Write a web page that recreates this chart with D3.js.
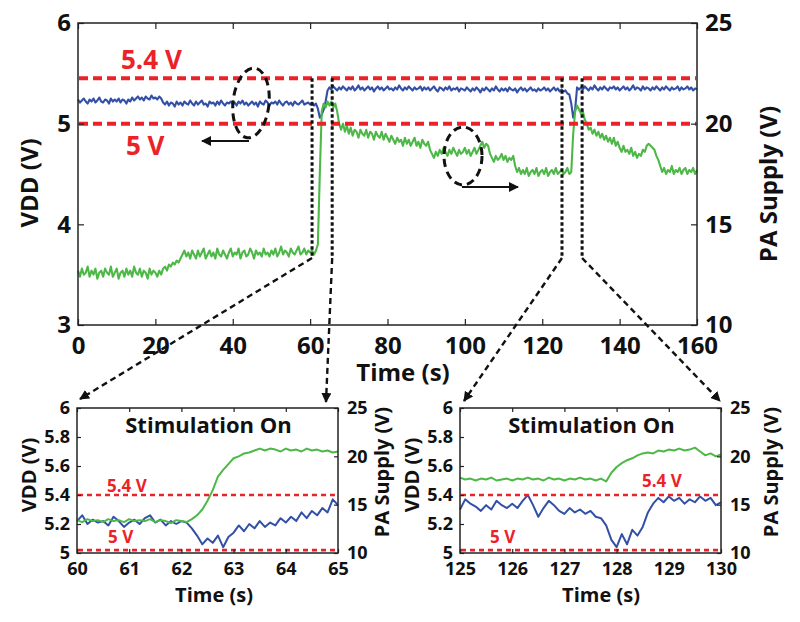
<!DOCTYPE html>
<html><head><meta charset="utf-8">
<script src="https://cdn.jsdelivr.net/npm/d3@7"></script>
<style>
body{margin:0;background:#fff}
text{font-family:'Open Sans',sans-serif;font-weight:700;fill:#111}
</style>
</head><body>
<svg id="c" width="800" height="622"></svg>
<script>
// ---------- DATA ----------
const mainStart = 0, mainStep = 0.5;   // sampling grid of the main traces (s)
const mainVdd = [
5.24,5.21,5.23,5.25,5.22,5.20,5.24,5.22,5.25,5.21,5.23,5.26,5.22,5.21,5.24,5.23,5.20,5.25,5.22,5.24,
5.22,5.25,5.21,5.24,5.23,5.20,5.24,5.22,5.26,5.23,5.25,5.27,5.24,5.26,5.23,5.27,5.25,5.24,5.28,5.25,
5.26,5.24,5.27,5.25,5.21,5.19,5.22,5.18,5.21,5.20,5.17,5.22,5.19,5.21,5.18,5.22,5.20,5.19,5.23,5.20,
5.18,5.22,5.19,5.21,5.23,5.19,5.20,5.17,5.22,5.20,5.21,5.18,5.22,5.19,5.23,5.20,5.18,5.21,5.20,5.22,
5.19,5.21,5.18,5.22,5.20,5.23,5.19,5.21,5.18,5.20,5.22,5.19,5.21,5.17,5.22,5.20,5.19,5.23,5.21,5.18,
5.21,5.20,5.22,5.19,5.23,5.20,5.18,5.21,5.22,5.19,5.21,5.18,5.22,5.20,5.19,5.21,5.23,5.19,5.20,5.21,
5.19,5.21,5.18,5.20,5.15,5.06,5.09,5.14,5.22,5.33,5.36,5.34,5.37,5.35,5.33,5.36,5.34,5.37,5.35,5.33,
5.36,5.34,5.37,5.33,5.35,5.38,5.34,5.36,5.33,5.35,5.37,5.34,5.36,5.32,5.35,5.37,5.34,5.36,5.33,5.35,
5.37,5.34,5.35,5.33,5.36,5.34,5.38,5.35,5.33,5.36,5.34,5.37,5.35,5.33,5.36,5.34,5.35,5.37,5.33,5.36,
5.34,5.36,5.33,5.35,5.37,5.34,5.32,5.36,5.35,5.33,5.36,5.34,5.37,5.33,5.35,5.34,5.36,5.32,5.35,5.34,
5.33,5.36,5.34,5.32,5.35,5.33,5.36,5.34,5.31,5.35,5.33,5.36,5.34,5.32,5.35,5.33,5.37,5.34,5.32,5.35,
5.33,5.35,5.32,5.36,5.34,5.33,5.35,5.31,5.34,5.36,5.33,5.35,5.32,5.34,5.36,5.33,5.34,5.32,5.35,5.33,
5.34,5.36,5.33,5.35,5.32,5.34,5.36,5.33,5.35,5.32,5.34,5.32,5.33,5.30,5.29,5.20,5.06,5.14,5.36,5.34,
5.36,5.34,5.37,5.35,5.33,5.36,5.34,5.38,5.35,5.33,5.36,5.34,5.37,5.35,5.33,5.36,5.35,5.37,5.34,5.36,
5.33,5.35,5.37,5.34,5.36,5.33,5.35,5.38,5.34,5.36,5.35,5.33,5.37,5.34,5.36,5.35,5.33,5.36,5.34,5.37,
5.35,5.33,5.36,5.34,5.37,5.35,5.33,5.36,5.34,5.35,5.37,5.33,5.36,5.34,5.35,5.37,5.34,5.36,5.33,5.35,
5.34];
const mainPa = [
12.7,12.4,12.8,12.5,12.6,12.9,12.4,12.7,12.5,12.8,12.3,12.6,12.7,12.4,12.8,12.6,12.5,12.9,12.4,12.6,
12.8,12.3,12.6,12.7,12.4,12.8,12.5,12.7,12.4,12.9,12.6,12.5,12.8,12.4,12.7,12.6,12.3,12.8,12.5,12.7,
12.6,12.4,12.7,12.5,12.8,12.9,12.7,13.0,12.9,13.1,13.0,13.2,13.1,13.3,13.5,13.7,13.4,13.6,13.3,13.7,
13.5,13.3,13.7,13.4,13.6,13.8,13.3,13.5,13.7,13.4,13.6,13.3,13.8,13.5,13.4,13.7,13.5,13.3,13.6,13.8,
13.4,13.6,13.5,13.8,13.3,13.6,13.7,13.4,13.5,13.8,13.6,13.3,13.7,13.5,13.6,13.4,13.8,13.5,13.6,13.4,
13.7,13.5,13.8,13.4,13.6,13.9,13.5,13.7,13.6,13.4,13.8,13.6,13.5,13.7,13.9,13.5,13.6,13.8,13.5,13.7,
13.6,13.7,13.5,13.7,14.0,17.5,20.6,21.0,20.8,21.1,20.9,21.1,20.8,21.0,20.6,20.0,19.7,20.0,19.6,19.9,
19.5,19.8,19.4,19.7,19.6,19.3,19.7,19.5,19.4,19.7,19.3,19.6,19.5,19.2,19.6,19.4,19.3,19.6,19.2,19.5,
19.3,19.1,19.4,19.2,19.0,19.3,19.1,19.2,18.9,19.3,19.0,19.2,18.9,19.1,19.3,18.9,19.1,18.8,19.2,19.0,
18.9,19.1,18.7,18.5,18.3,18.6,18.4,18.7,18.5,18.8,18.6,18.4,18.7,18.5,18.8,18.6,18.4,18.7,18.5,18.6,
18.8,18.5,18.7,18.4,18.6,18.8,18.5,18.7,18.9,19.1,18.8,19.0,18.9,18.5,18.3,18.1,18.4,18.2,18.3,18.5,
18.2,18.4,18.1,18.3,18.2,18.4,17.9,17.6,17.8,17.5,17.7,17.5,17.8,17.4,17.6,17.7,17.5,17.8,17.4,17.6,
17.7,17.5,17.8,17.4,17.6,17.7,17.5,17.8,17.5,17.6,17.7,17.5,17.6,17.8,17.5,17.6,19.5,20.6,20.9,20.7,
20.5,20.6,20.2,20.0,19.7,19.8,19.5,19.7,19.4,19.6,19.3,19.5,19.2,19.4,19.1,19.3,19.0,19.3,18.9,19.1,
18.8,18.6,18.9,18.6,18.7,18.5,18.8,18.4,18.6,18.3,18.5,18.4,18.7,18.6,18.9,19.0,18.9,18.8,18.7,18.4,
18.2,17.9,17.6,17.8,17.5,17.7,17.6,17.9,17.5,17.7,17.6,17.8,17.5,17.7,17.8,17.5,17.7,17.6,17.8,17.5,
17.7];

const insetStep = 0.1;
const inset1Start = 60, inset2Start = 125;
const inset1Vdd = [
5.22,5.26,5.20,5.23,5.21,5.22,5.19,5.25,5.22,5.18,
5.21,5.23,5.20,5.24,5.26,5.21,5.23,5.19,5.22,5.20,
5.22,5.21,5.17,5.12,5.06,5.10,5.07,5.12,5.04,5.11,
5.14,5.19,5.15,5.20,5.17,5.22,5.18,5.21,5.19,5.24,
5.21,5.25,5.22,5.28,5.24,5.29,5.26,5.31,5.28,5.37,
5.33];
const inset1Pa = [
13.4,13.2,13.5,13.3,13.4,13.2,13.5,13.3,13.4,13.2,
13.5,13.3,13.4,13.3,13.5,13.2,13.4,13.3,13.1,13.4,
13.3,13.2,13.5,13.9,14.5,15.4,16.5,17.9,18.6,19.2,
19.8,20.0,20.3,20.4,20.6,20.8,20.6,20.8,20.7,20.5,
20.8,20.6,20.7,20.5,20.8,20.6,20.7,20.5,20.6,20.4,
20.5];
const inset2Vdd = [
5.30,5.37,5.34,5.32,5.29,5.33,5.30,5.36,5.33,5.31,
5.34,5.31,5.36,5.40,5.33,5.25,5.31,5.36,5.33,5.29,
5.27,5.31,5.28,5.30,5.27,5.29,5.25,5.24,5.19,5.09,
5.04,5.13,5.06,5.16,5.12,5.18,5.28,5.34,5.38,5.35,
5.39,5.36,5.38,5.34,5.37,5.35,5.39,5.36,5.38,5.33,
5.35];
const inset2Pa = [
17.8,17.6,17.7,17.5,17.7,17.6,17.8,17.5,17.6,17.7,
17.5,17.7,17.6,17.8,17.6,17.7,17.5,17.8,17.6,17.7,
17.5,17.7,17.6,17.8,17.6,17.7,17.5,17.7,17.4,18.3,
18.9,19.3,19.6,19.8,20.1,20.3,20.4,20.3,20.6,20.5,
20.7,20.6,20.8,20.6,20.7,20.9,20.5,20.1,20.3,20.0,
20.2];

const mainXTicks = [0,20,40,60,80,100,120,140,160];
const mainVddTicks = [3,4,5,6];
const paTicks = [10,15,20,25];
const insetVddTicks = [5,5.2,5.4,5.6,5.8,6];
const inset1XTicks = [60,61,62,63,64,65];
const inset2XTicks = [125,126,127,128,129,130];
const mainLimits = [5.45, 5.0];
const mainLimitLabels = ["5.4 V", "5 V"];
const insetLimits = [5.4, 5.02];
const insetLimitLabels = ["5.4 V", "5 V"];
const zoomWindows = [[60.5, 65.7], [125.1, 130.3]];

// ---------- DRAW ----------
const svg = d3.select("#c");
const BLUE = "#3450a6", GREEN = "#4db848", RED = "#ec2229";

const defs = svg.append("defs");
defs.append("marker").attr("id","arr").attr("viewBox","0 0 10 10")
  .attr("refX",9).attr("refY",5).attr("markerWidth",10).attr("markerHeight",10)
  .attr("markerUnits","userSpaceOnUse").attr("orient","auto")
  .append("path").attr("d","M0,0L10,5L0,10Z").attr("fill","#111");

function series(start, step, vals){ return vals.map((v,i)=>[start+i*step, v]); }

function panel(o){
  const g = svg.append("g");
  const x = d3.scaleLinear().domain(o.xDom).range([o.l, o.r]);
  const yL = d3.scaleLinear().domain(o.yLDom).range([o.b, o.t]);
  const yR = d3.scaleLinear().domain([10,25]).range([o.b, o.t]);
  const ts = o.tick;
  const lineL = d3.line().x(d=>x(d[0])).y(d=>yL(d[1]));
  const lineR = d3.line().x(d=>x(d[0])).y(d=>yR(d[1]));
  g.append("path").datum(o.vdd).attr("d", lineL).attr("fill","none")
    .attr("stroke", BLUE).attr("stroke-width", o.lw).attr("stroke-linejoin","round");
  g.append("path").datum(o.pa).attr("d", lineR).attr("fill","none")
    .attr("stroke", GREEN).attr("stroke-width", o.lw).attr("stroke-linejoin","round");
  o.limits.forEach((v,i)=>{
    g.append("line").attr("x1",o.l+1).attr("x2",o.r-1).attr("y1",yL(v)).attr("y2",yL(v))
      .attr("stroke",RED).attr("stroke-width",o.redW).attr("stroke-dasharray",o.redDash);
  });
  const ax = (axis, tr) => {
    const a = g.append("g").attr("transform", tr).call(axis);
    a.select(".domain").remove();
    a.selectAll("line").attr("stroke","#222").attr("stroke-width",1.2);
    a.selectAll("text").style("font-size", o.tickFont+"px").style("font-family","'Open Sans',sans-serif")
      .style("font-weight",700).attr("fill","#111");
    return a;
  };
  ax(d3.axisBottom(x).tickValues(o.xTicks).tickSizeInner(-ts).tickSizeOuter(0).tickPadding(o.padB)
     .tickFormat(d3.format("d")), `translate(0,${o.b})`);
  ax(d3.axisTop(x).tickValues(o.xTicks).tickSizeInner(-ts).tickSizeOuter(0).tickFormat(""), `translate(0,${o.t})`);
  ax(d3.axisLeft(yL).tickValues(o.yTicks).tickSizeInner(-ts).tickSizeOuter(0).tickPadding(o.padL)
     .tickFormat(d=>String(+d.toFixed(1))), `translate(${o.l},0)`);
  ax(d3.axisRight(yR).tickValues(paTicks).tickSizeInner(-ts).tickSizeOuter(0).tickPadding(o.padR)
     .tickFormat(d3.format("d")), `translate(${o.r},0)`);
  g.append("rect").attr("x",o.l).attr("y",o.t).attr("width",o.r-o.l).attr("height",o.b-o.t)
    .attr("fill","none").attr("stroke","#222").attr("stroke-width",1.5);
  return {g,x,yL,yR};
}

const M = panel({l:78, r:697, t:23, b:325, xDom:[0,160], yLDom:[3,6],
  vdd: series(mainStart, mainStep, mainVdd), pa: series(mainStart, mainStep, mainPa),
  lw:2.1, limits: mainLimits, redW:4, redDash:"9,5", tick:6, tickFont:24,
  xTicks: mainXTicks, yTicks: mainVddTicks, padB:12, padL:7, padR:8});

const I1 = panel({l:77, r:338, t:408, b:553, xDom:[60,65], yLDom:[5,6],
  vdd: series(inset1Start, insetStep, inset1Vdd), pa: series(inset1Start, insetStep, inset1Pa),
  lw:2, limits: insetLimits, redW:2.6, redDash:"5,4", tick:4, tickFont:18,
  xTicks: inset1XTicks, yTicks: insetVddTicks, padB:9, padL:7, padR:9});
const I2 = panel({l:460, r:721, t:408, b:553, xDom:[125,130], yLDom:[5,6],
  vdd: series(inset2Start, insetStep, inset2Vdd), pa: series(inset2Start, insetStep, inset2Pa),
  lw:2, limits: insetLimits, redW:2.6, redDash:"5,4", tick:4, tickFont:18,
  xTicks: inset2XTicks, yTicks: insetVddTicks, padB:9, padL:7, padR:9});

function txt(x,y,s,size,opt={}){
  const t = svg.append("text").attr("x",x).attr("y",y).text(s).style("font-size",size+"px");
  if(opt.anchor) t.attr("text-anchor",opt.anchor);
  if(opt.fill) t.style("fill",opt.fill);
  if(opt.rot) t.attr("transform",`rotate(-90,${x},${y})`);
  return t;
}
txt(403,381,"Time (s)",24,{anchor:"middle"});
txt(38,183,"VDD (V)",24,{anchor:"middle",rot:true});
txt(777,184,"PA Supply (V)",24,{anchor:"middle",rot:true});
txt(121,69,mainLimitLabels[0],26,{fill:RED});
txt(126,155,mainLimitLabels[1],26,{fill:RED});

[[I1,214,36,389,107,492,108],[I2,601,419,778,642,487,490]].forEach(([P,tx,vx,px,l1x,l1y,l2x])=>{
  txt(tx,602,"Time (s)",20,{anchor:"middle"});
  txt(vx,475,"VDD (V)",20,{anchor:"middle",rot:true});
  txt(px,472,"PA Supply (V)",20,{anchor:"middle",rot:true});
  txt((P.x.range()[0]+P.x.range()[1])/2 + 1,433,"Stimulation On",22,{anchor:"middle"});
  txt(l1x,l1y,insetLimitLabels[0],17,{fill:RED});
  txt(l2x,543,insetLimitLabels[1],17,{fill:RED});
});

const ann = svg.append("g").attr("fill","none").attr("stroke","#111");
ann.append("ellipse").attr("cx",251).attr("cy",103).attr("rx",18).attr("ry",35)
  .attr("transform","rotate(6,251,103)").attr("stroke-width",3).attr("stroke-dasharray","8,5");
ann.append("line").attr("x1",249).attr("y1",141).attr("x2",202).attr("y2",141)
  .attr("stroke-width",2.2).attr("marker-end","url(#arr)");
ann.append("ellipse").attr("cx",463).attr("cy",156).attr("rx",19).attr("ry",29)
  .attr("stroke-width",3).attr("stroke-dasharray","8,5");
ann.append("line").attr("x1",462).attr("y1",187).attr("x2",518).attr("y2",187)
  .attr("stroke-width",2.2).attr("marker-end","url(#arr)");

const guideTop = M.yL(mainLimits[0]), guideBot = 258;
const targets = [[[80,399],[326,402]],[[464,401],[720,401]]];
zoomWindows.forEach((w,k)=>{
  w.forEach((tv,j)=>{
    const gx = M.x(tv);
    ann.append("line").attr("x1",gx).attr("x2",gx).attr("y1",guideTop).attr("y2",guideBot)
      .attr("stroke-width",3).attr("stroke-dasharray","3.5,2.5");
    ann.append("line").attr("x1",gx).attr("y1",guideBot).attr("x2",targets[k][j][0]).attr("y2",targets[k][j][1])
      .attr("stroke-width",2.4).attr("stroke-dasharray","6,4").attr("marker-end","url(#arr)");
  });
});
</script>
</body></html>
